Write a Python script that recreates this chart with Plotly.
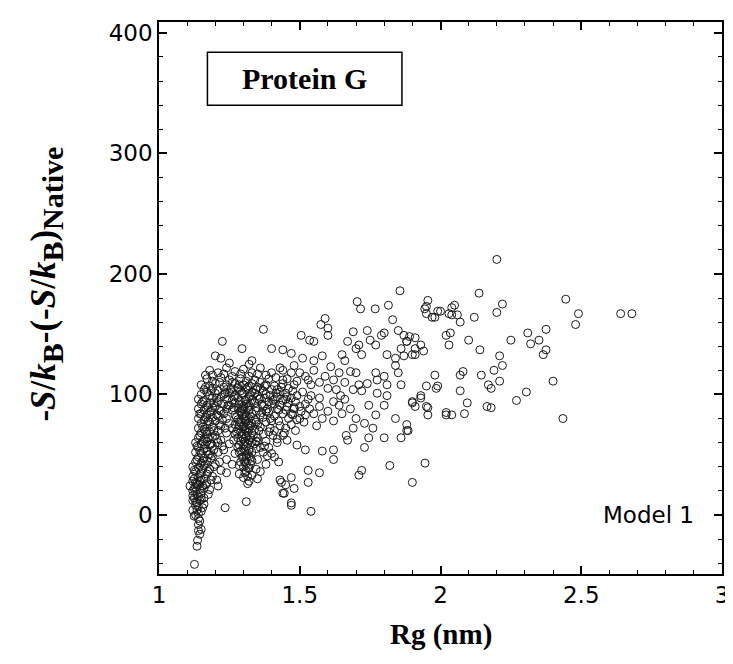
import plotly.graph_objects as go

# points: (Rg in nm, -S/kB-(-S/kB)native)
spread_pts = [
    (1.371, 154), (1.225, 144), (1.295, 138), (1.20, 132), (1.22, 130), (1.33, 128), (1.40, 138), (1.44, 137),
    (1.47, 134), (1.505, 149), (1.535, 145), (1.55, 144), (1.59, 163), (1.575, 158), (1.60, 155), (1.60, 149),
    (1.43, 122), (1.375, 97), (1.54, 3), (1.47, 10), (1.31, 11), (1.235, 6), (1.44, 18), (1.45, 25), (1.43, 29),
    (1.47, 31), (1.53, 27), (1.53, 37), (1.57, 35), (1.58, 53), (1.62, 54), (1.62, 46), (1.52, 54), (1.49, 58),
    (1.47, 75), (1.56, 74), (1.35, 61), (1.856, 186), (1.704, 177), (1.716, 171), (1.768, 171), (1.815, 174),
    (1.955, 178), (1.944, 171), (1.99, 169), (1.97, 164), (2.03, 167), (2.04, 172), (1.83, 162), (1.85, 153),
    (1.80, 151), (1.69, 152), (1.67, 144), (1.71, 141), (1.74, 153), (1.75, 145), (1.77, 141), (1.79, 149),
    (1.51, 130), (1.55, 128), (1.58, 132), (1.61, 123), (1.65, 133), (1.66, 128), (1.68, 119), (1.70, 138),
    (1.72, 133), (1.81, 133), (1.84, 130), (1.86, 138), (1.88, 144), (1.91, 147), (1.93, 141), (1.94, 136),
    (1.90, 133), (1.84, 124), (1.85, 118), (1.80, 115), (1.77, 118), (1.775, 112), (1.74, 109), (1.81, 108),
    (1.86, 108), (1.98, 116), (1.99, 107), (1.95, 107), (1.93, 99), (1.90, 94), (1.95, 90), (1.955, 83),
    (2.02, 149), (2.03, 141), (2.02, 85), (1.70, 118), (1.71, 108), (1.69, 104), (1.72, 103), (1.645, 99),
    (1.62, 94), (1.64, 91), (1.60, 86), (1.57, 90), (1.60, 105), (1.745, 91), (1.77, 83), (1.80, 91),
    (1.775, 101), (1.81, 99), (1.84, 80), (1.88, 75), (1.86, 64), (1.88, 70), (1.80, 64), (1.745, 64),
    (1.73, 56), (1.67, 62), (1.665, 66), (1.72, 37), (1.71, 33), (1.82, 41), (1.945, 43), (1.90, 27),
    (1.48, 22), (1.445, 18), (1.435, 27), (1.47, 8),
    (1.50, 118), (1.53, 112), (1.55, 120), (1.57, 110), (1.59, 115), (1.62, 112), (1.64, 118), (1.66, 110),
    (1.48, 108), (1.51, 102), (1.54, 99), (1.57, 97), (1.63, 104), (1.66, 96), (1.68, 88), (1.52, 92),
    (1.55, 84), (1.58, 80), (1.62, 78), (1.65, 84), (1.70, 80), (1.73, 76), (1.76, 72), (1.69, 72),
    (1.48, 88), (1.45, 96), (1.42, 104), (1.44, 112), (1.41, 92),
    (1.39, 56), (1.41, 48), (1.38, 42), (1.36, 36), (1.42, 60), (1.44, 66), (1.37, 52), (1.35, 30),
]

right_pts = [
    (2.20, 212), (2.137, 184), (2.445, 179), (2.49, 167), (2.48, 158), (2.64, 167), (2.68, 167),
    (1.95, 173), (1.95, 167), (1.98, 164), (2.00, 169), (2.05, 174), (2.04, 166), (2.06, 166), (2.07, 160),
    (2.12, 164), (2.22, 175), (2.20, 168), (1.87, 149), (1.88, 144), (1.89, 148), (1.91, 138), (1.91, 133),
    (1.87, 132), (2.035, 151), (2.10, 145), (2.14, 137), (2.25, 145), (2.31, 151), (2.32, 142), (2.35, 145),
    (2.375, 154), (2.375, 137), (2.365, 133), (2.21, 132), (2.22, 124), (2.19, 120), (2.145, 116),
    (2.08, 119), (2.07, 116), (1.985, 105), (2.07, 103), (2.17, 108), (2.18, 105), (2.21, 111), (2.27, 95),
    (2.305, 102), (2.40, 111), (2.435, 80), (1.93, 97), (1.90, 93), (1.91, 90), (1.955, 89), (2.02, 83),
    (2.04, 83), (2.085, 84), (2.095, 93), (2.165, 90), (2.18, 89), (1.885, 70),
]

core_pts = [
    (1.18, 120), (1.21, 118), (1.24, 122), (1.27, 119), (1.30, 121), (1.33, 118), (1.36, 122), (1.47, 118),
    (1.52, 115), (1.44, 120), (1.19, 116), (1.23, 117), (1.26, 115), (1.29, 117), (1.32, 115), (1.35, 117),
    (1.38, 116), (1.415, 114), (1.455, 113), (1.49, 111), (1.165, 116), (1.25, 126), (1.32, 125), (1.40, 118),
    (1.48, 124), (1.54, 108), (1.53, 96), (1.50, 80), (1.47, 84),
    (1.17, 113), (1.19, 111), (1.22, 114), (1.25, 112), (1.26, 110), (1.29, 113), (1.31, 111), (1.34, 112),
    (1.36, 110), (1.39, 113),
    (1.15, 108), (1.18, 107), (1.20, 109), (1.23, 106), (1.24, 108), (1.27, 109), (1.28, 106), (1.30, 108),
    (1.32, 107), (1.33, 109), (1.35, 106), (1.38, 108), (1.41, 107), (1.44, 109),
    (1.16, 104), (1.17, 102), (1.19, 105), (1.21, 103), (1.24, 104), (1.26, 102), (1.28, 105), (1.29, 103),
    (1.31, 104), (1.33, 102), (1.36, 105), (1.37, 103), (1.40, 104), (1.43, 102), (1.46, 105),
    (1.15, 100), (1.18, 99), (1.20, 101), (1.22, 98), (1.23, 100), (1.25, 101), (1.27, 99), (1.30, 100),
    (1.32, 98), (1.34, 101), (1.35, 99), (1.38, 100), (1.42, 98), (1.45, 101), (1.49, 99),
    (1.14, 96), (1.16, 95), (1.19, 97), (1.21, 94), (1.24, 96), (1.26, 95), (1.28, 97), (1.29, 94),
    (1.31, 96), (1.33, 95), (1.36, 97), (1.39, 94), (1.41, 96), (1.44, 95), (1.47, 97),
    (1.15, 92), (1.17, 91), (1.18, 93), (1.20, 90), (1.23, 92), (1.25, 91), (1.27, 93), (1.30, 90),
    (1.31, 92), (1.32, 91), (1.34, 93), (1.37, 90), (1.40, 92), (1.43, 91), (1.46, 93), (1.50, 90),
    (1.14, 88), (1.16, 87), (1.19, 89), (1.22, 86), (1.24, 88), (1.26, 87), (1.28, 89), (1.29, 86),
    (1.30, 88), (1.32, 87), (1.35, 89), (1.38, 86), (1.42, 88), (1.45, 87), (1.48, 89),
    (1.15, 84), (1.17, 83), (1.18, 85), (1.21, 82), (1.23, 84), (1.27, 83), (1.29, 85), (1.31, 82),
    (1.33, 84), (1.36, 83), (1.39, 85), (1.41, 82), (1.44, 84), (1.52, 83),
    (1.14, 80), (1.16, 79), (1.19, 81), (1.20, 78), (1.24, 80), (1.28, 79), (1.30, 81), (1.31, 78),
    (1.32, 80), (1.34, 79), (1.37, 81), (1.40, 78), (1.46, 80), (1.49, 79),
    (1.15, 76), (1.17, 75), (1.18, 77), (1.22, 74), (1.25, 76), (1.27, 75), (1.29, 77), (1.30, 74),
    (1.33, 76), (1.35, 75), (1.38, 77), (1.43, 74),
    (1.14, 72), (1.16, 71), (1.19, 73), (1.21, 70), (1.26, 72), (1.28, 71), (1.30, 73), (1.31, 70),
    (1.32, 72), (1.34, 71), (1.36, 73), (1.41, 70), (1.45, 72),
    (1.15, 68), (1.17, 67), (1.18, 69), (1.20, 66), (1.24, 68), (1.27, 67), (1.29, 69), (1.31, 66),
    (1.33, 68), (1.37, 67), (1.39, 69),
    (1.14, 64), (1.16, 63), (1.19, 65), (1.22, 62), (1.28, 64), (1.30, 63), (1.31, 65), (1.32, 62),
    (1.35, 64), (1.42, 63),
]

# second pass over the dark core, between the first readings
core_fill_pts = [
    (1.165, 106), (1.185, 103), (1.205, 97), (1.215, 110), (1.235, 101), (1.255, 105), (1.265, 98),
    (1.285, 108), (1.295, 101), (1.305, 95), (1.315, 106), (1.325, 99), (1.345, 104), (1.355, 96),
    (1.375, 107), (1.395, 99), (1.415, 101), (1.435, 106), (1.455, 98), (1.475, 103),
    (1.155, 94), (1.175, 89), (1.195, 93), (1.215, 87), (1.245, 91), (1.265, 89), (1.285, 92), (1.295, 88),
    (1.305, 84), (1.315, 89), (1.325, 93), (1.345, 86), (1.365, 92), (1.385, 88), (1.405, 95), (1.425, 87),
    (1.455, 90), (1.485, 94), (1.505, 86),
    (1.145, 84), (1.165, 81), (1.185, 86), (1.205, 83), (1.225, 79), (1.275, 81), (1.285, 77), (1.295, 83),
    (1.305, 79), (1.315, 75), (1.325, 82), (1.345, 77), (1.365, 85), (1.395, 80), (1.425, 78), (1.475, 83),
    (1.515, 77), (1.535, 88),
    (1.155, 73), (1.165, 69), (1.175, 78), (1.195, 70), (1.215, 75), (1.235, 72), (1.275, 69), (1.285, 74),
    (1.295, 67), (1.305, 71), (1.315, 68), (1.325, 74), (1.335, 66), (1.355, 70), (1.395, 72), (1.445, 68),
    (1.485, 70),
    (1.145, 66), (1.155, 61), (1.175, 64), (1.185, 59), (1.205, 63), (1.265, 62), (1.285, 58), (1.295, 65),
    (1.305, 61), (1.315, 59), (1.325, 64), (1.345, 61), (1.375, 57), (1.405, 66), (1.455, 62),
    (1.135, 57), (1.145, 53), (1.165, 58), (1.175, 50), (1.195, 54), (1.225, 57), (1.285, 52), (1.295, 48),
    (1.305, 53), (1.315, 51), (1.325, 47), (1.345, 55), (1.385, 49), (1.425, 44),
    (1.135, 46), (1.155, 45), (1.165, 42), (1.185, 47), (1.215, 44), (1.285, 41), (1.305, 44), (1.315, 39),
    (1.325, 42), (1.345, 38),
    (1.125, 37), (1.145, 34), (1.155, 38), (1.175, 36), (1.195, 40), (1.305, 35), (1.315, 32), (1.285, 34),
    (1.205, 29), (1.125, 30), (1.135, 26), (1.145, 28), (1.165, 25), (1.185, 29), (1.315, 26),
    (1.125, 22), (1.135, 17), (1.145, 21), (1.155, 24), (1.175, 17),
    (1.125, 14), (1.135, 10), (1.145, 12), (1.155, 6), (1.135, 4), (1.125, -1), (1.145, -5), (1.15, -12),
    (1.145, -16), (1.14, -13),
]

arm_pts = [
    (1.13, 60), (1.15, 59), (1.17, 61), (1.18, 58), (1.21, 60), (1.25, 59), (1.29, 61), (1.30, 58),
    (1.33, 60), (1.34, 59), (1.38, 61),
    (1.14, 56), (1.16, 55), (1.19, 57), (1.23, 54), (1.28, 56), (1.30, 55), (1.31, 57), (1.32, 54), (1.36, 56),
    (1.13, 52), (1.15, 51), (1.17, 53), (1.18, 50), (1.21, 52), (1.27, 51), (1.29, 53), (1.31, 50),
    (1.33, 52), (1.40, 51),
    (1.14, 48), (1.16, 47), (1.19, 49), (1.24, 46), (1.30, 48), (1.31, 47), (1.32, 49), (1.35, 46),
    (1.13, 44), (1.15, 43), (1.17, 45), (1.20, 42), (1.29, 44), (1.31, 43), (1.33, 45), (1.26, 42),
    (1.12, 40), (1.14, 39), (1.16, 41), (1.18, 38), (1.30, 40), (1.32, 39), (1.22, 37),
    (1.13, 36), (1.15, 35), (1.17, 34), (1.31, 36), (1.33, 33), (1.24, 35),
    (1.12, 32), (1.14, 31), (1.16, 30), (1.19, 32), (1.30, 31),
    (1.12, 28), (1.13, 27), (1.15, 29), (1.17, 26), (1.32, 28),
    (1.11, 24), (1.13, 23), (1.14, 25), (1.16, 22), (1.21, 24),
    (1.12, 20), (1.13, 19), (1.15, 18), (1.18, 21),
    (1.12, 16), (1.14, 15), (1.16, 14),
    (1.12, 12), (1.13, 11), (1.15, 13),
    (1.13, 8), (1.14, 7), (1.16, 9),
    (1.12, 4), (1.15, 3),
    (1.13, 0), (1.14, 1),
    (1.14, -3), (1.14, -8), (1.137, -21), (1.135, -26), (1.126, -41),
]

x_ticks = [1, 1.5, 2, 2.5, 3]
x_labels = ["1", "1.5", "2", "2.5", "3"]
y_ticks = [0, 100, 200, 300, 400]
y_labels = ["0", "100", "200", "300", "400"]

all_pts = spread_pts + right_pts + core_pts + core_fill_pts + arm_pts
rg = [p[0] for p in all_pts]
ent = [p[1] for p in all_pts]

fig = go.Figure()
fig.add_trace(go.Scatter(
    x=rg, y=ent, mode="markers",
    marker=dict(symbol="circle-open", size=8, color="#1a1a1a", line=dict(width=1)),
    showlegend=False, hoverinfo="x+y",
))

tick_font = dict(family="DejaVu Sans", size=23, color="black")
axis_common = dict(
    showline=True, linecolor="black", linewidth=1.5, mirror="ticks",
    ticks="inside", ticklen=8, tickwidth=1.5, tickcolor="black",
    showgrid=False, zeroline=False, tickfont=tick_font,
)
fig.update_xaxes(range=[1, 3], tickvals=x_ticks, ticktext=x_labels,
                 minor=dict(ticks="inside", ticklen=4, tickwidth=1, tickcolor="black", dtick=0.1, tick0=1),
                 **axis_common)
fig.update_yaxes(range=[-49, 409], tickvals=y_ticks, ticktext=y_labels,
                 minor=dict(ticks="inside", ticklen=4, tickwidth=1, tickcolor="black", dtick=20, tick0=0),
                 **axis_common)

# "Protein G" label box
fig.add_shape(type="rect", xref="x", yref="y", x0=1.172, x1=1.863, y0=340, y1=384,
              line=dict(color="black", width=1.5), fillcolor="white")
fig.add_annotation(x=1.5175, y=362, xref="x", yref="y", text="<b>Protein G</b>", showarrow=False,
                   font=dict(family="Liberation Serif", size=30, color="black"))
fig.add_annotation(x=2.74, y=0, xref="x", yref="y", text="Model 1", showarrow=False,
                   font=dict(family="DejaVu Sans", size=23, color="black"))

# axis titles
sub = '<sub><span style="font-size:30px">{}</span></sub>'
y_title = ("<b>-<i>S</i>/<i>k</i>" + sub.format("B") + "-(-<i>S</i>/<i>k</i>" + sub.format("B")
           + ")" + sub.format("Native") + "</b>")
fig.add_annotation(x=0.5, y=-0.11, xref="paper", yref="paper", text="<b>Rg (nm)</b>",
                   showarrow=False, xanchor="center", yanchor="middle",
                   font=dict(family="Liberation Serif", size=29, color="black"))
fig.add_annotation(x=-0.2, y=0.525, xref="paper", yref="paper", textangle=-90,
                   text=y_title, showarrow=False, xanchor="center", yanchor="middle",
                   font=dict(family="Liberation Serif", size=35, color="black"))

fig.update_layout(
    width=733, height=664,
    margin=dict(l=151, r=12, t=13, b=98),
    paper_bgcolor="white", plot_bgcolor="white",
)

fig.write_html("out.html")
